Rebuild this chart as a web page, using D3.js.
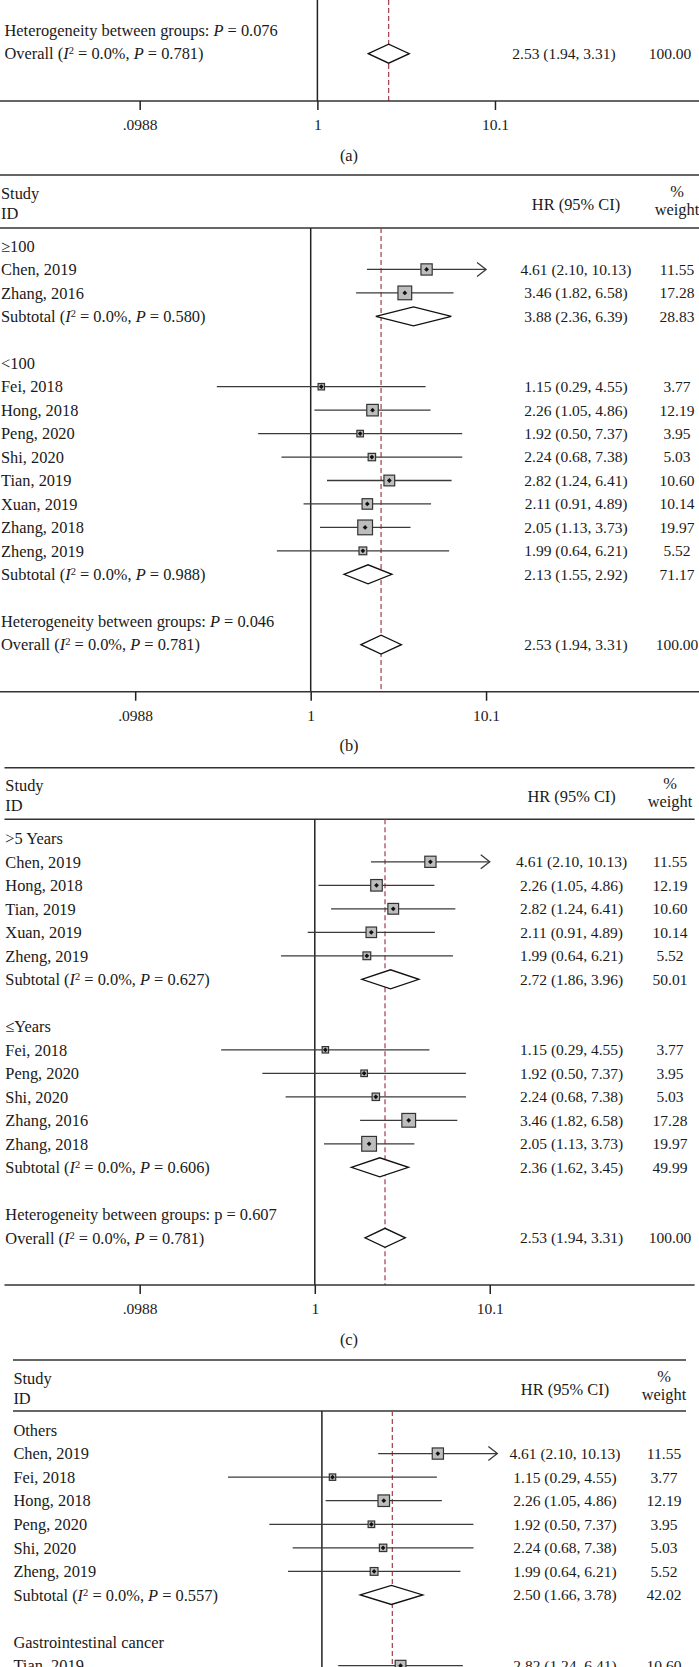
<!DOCTYPE html>
<html>
<head>
<meta charset="utf-8">
<script src="https://cdn.jsdelivr.net/npm/d3@7"></script>
<style>
  body { margin: 0; background: #fff; }
  svg text { font-family: "Liberation Serif", "DejaVu Serif", serif; fill: #1a1a1a; }
</style>
</head>
<body>
<svg id="chart" width="699" height="1667"></svg>
<script>
// ---- data ----
const studyNames  = ["Chen, 2019", "Zhang, 2016", "Fei, 2018", "Hong, 2018", "Peng, 2020",
                     "Shi, 2020", "Tian, 2019", "Xuan, 2019", "Zhang, 2018", "Zheng, 2019"];
const studyHR     = [4.61, 3.46, 1.15, 2.26, 1.92, 2.24, 2.82, 2.11, 2.05, 1.99];
const studyLower  = [2.10, 1.82, 0.29, 1.05, 0.50, 0.68, 1.24, 0.91, 1.13, 0.64];
const studyUpper  = [10.13, 6.58, 4.55, 4.86, 7.37, 7.38, 6.41, 4.89, 3.73, 6.21];
const studyWeight = [11.55, 17.28, 3.77, 12.19, 3.95, 5.03, 10.60, 10.14, 19.97, 5.52];

const overallHR = [2.53, 1.94, 3.31, 100.00];   // est, lower, upper, weight
const overallP = "0.781";

// (b) sample size
const groupsB  = ["≥100", "<100"];
const membersB = [["Chen, 2019", "Zhang, 2016"],
                  ["Fei, 2018", "Hong, 2018", "Peng, 2020", "Shi, 2020", "Tian, 2019",
                   "Xuan, 2019", "Zhang, 2018", "Zheng, 2019"]];
const subHRB = [3.88, 2.13], subLoB = [2.36, 1.55], subHiB = [6.39, 2.92];
const subWB = [28.83, 71.17], subPB = ["0.580", "0.988"];

// (c) follow-up
const groupsC  = [">5 Years", "≤Years"];
const membersC = [["Chen, 2019", "Hong, 2018", "Tian, 2019", "Xuan, 2019", "Zheng, 2019"],
                  ["Fei, 2018", "Peng, 2020", "Shi, 2020", "Zhang, 2016", "Zhang, 2018"]];
const subHRC = [2.72, 2.36], subLoC = [1.86, 1.62], subHiC = [3.96, 3.45];
const subWC = [50.01, 49.99], subPC = ["0.627", "0.606"];

// (d) cancer type (cut off at the bottom)
const groupsD  = ["Others", "Gastrointestinal cancer"];
const membersD = [["Chen, 2019", "Fei, 2018", "Hong, 2018", "Peng, 2020", "Shi, 2020", "Zheng, 2019"],
                  ["Tian, 2019"]];
const subHRD = [2.50], subLoD = [1.66], subHiD = [3.78];
const subWD = [42.02], subPD = ["0.557"];

const hetA = "0.076", hetB = "0.046", hetC = "0.607";

const tickVals = [0.0988, 1, 10.1];
const tickLabels = [".0988", "1", "10.1"];

// ---- helpers ----
const svg = d3.select("#chart");
const fmt = d3.format(".2f");
const FS = 16.4;     // labels, headers
const NS = 15.5;     // numeric columns

function buildRows(groups, members, subHR, subLo, subHi, subW, subP, het, hetItalic) {
  let rows = [];
  groups.forEach(function(g, gi) {
    rows.push({ type: "group", label: g });
    members[gi].forEach(function(name) {
      let i = studyNames.indexOf(name);
      rows.push({ type: "study", label: name, hr: studyHR[i], lo: studyLower[i],
                  hi: studyUpper[i], w: studyWeight[i] });
    });
    if (gi < subHR.length) {
      rows.push({ type: "sub", hr: subHR[gi], lo: subLo[gi], hi: subHi[gi], w: subW[gi], p: subP[gi] });
      rows.push({ type: "blank" });
    }
  });
  if (het) {
    rows.push({ type: "het", p: het, italic: hetItalic });
    rows.push({ type: "overall", hr: overallHR[0], lo: overallHR[1], hi: overallHR[2],
                w: overallHR[3], p: overallP });
  }
  return rows;
}

function labelParts(r) {
  if (r.type === "sub" || r.type === "overall") {
    return [[r.type === "sub" ? "Subtotal (" : "Overall ("], ["I", "i"], ["2", "sup"],
            [" = 0.0%, "], ["P", "i"], [" = " + r.p + ")"]];
  }
  if (r.type === "het") {
    return [["Heterogeneity between groups: "], [r.italic ? "P" : "p", r.italic ? "i" : ""],
            [" = " + r.p]];
  }
  return [[r.label]];
}

function writeLabel(g, x, y, parts) {
  let t = g.append("text").attr("x", x).attr("y", y).attr("dy", "0.35em")
    .style("font-size", FS + "px");
  let shift = 0;
  parts.forEach(function(p) {
    let s = t.append("tspan").text(p[0]);
    if (p[1] === "i") s.style("font-style", "italic");
    if (p[1] === "sup") { s.style("font-size", "10.5px").attr("dy", -5); shift = 5; }
    else if (shift) { s.attr("dy", shift); shift = 0; }
  });
}

function drawPanel(cfg, rows) {
  let g = svg.append("g");
  let x = d3.scaleLog().domain([1, 10.1])
    .range([cfg.x1, cfg.x1 + cfg.dec * Math.log10(10.1)]);
  let rowY = function(i) { return cfg.row0 + i * cfg.step; };
  let boxSide = function(w) { return 3.3 * Math.sqrt(w); };

  // header
  if (cfg.top != null) {
    g.append("line").attr("x1", cfg.ruleL).attr("x2", cfg.ruleR)
      .attr("y1", cfg.top).attr("y2", cfg.top).attr("stroke", "#333").attr("stroke-width", 1.5);
    writeLabel(g, cfg.textX, cfg.top + 18, [["Study"]]);
    writeLabel(g, cfg.textX, cfg.top + 38, [["ID"]]);
    g.append("text").attr("x", cfg.hrX).attr("y", cfg.top + 29).attr("dy", "0.35em")
      .attr("text-anchor", "middle").style("font-size", FS + "px").text("HR (95% CI)");
    g.append("text").attr("x", cfg.wX).attr("y", cfg.top + 16).attr("dy", "0.35em")
      .attr("text-anchor", "middle").style("font-size", FS + "px").text("%");
    g.append("text").attr("x", cfg.wX).attr("y", cfg.top + 34).attr("dy", "0.35em")
      .attr("text-anchor", "middle").style("font-size", FS + "px").text("weight");
    g.append("line").attr("x1", cfg.ruleL).attr("x2", cfg.ruleR)
      .attr("y1", cfg.head).attr("y2", cfg.head).attr("stroke", "#333").attr("stroke-width", 1.5);
  }

  let lineTop = cfg.top != null ? cfg.head : 0;
  let lineBot = cfg.axisY != null ? cfg.axisY : 1667;

  // null line and overall estimate line
  g.append("line").attr("x1", x(1)).attr("x2", x(1)).attr("y1", lineTop).attr("y2", lineBot)
    .attr("stroke", "#222").attr("stroke-width", 1.5);
  g.append("line").attr("x1", x(overallHR[0])).attr("x2", x(overallHR[0]))
    .attr("y1", lineTop).attr("y2", lineBot)
    .attr("stroke", "#a53a4c").attr("stroke-width", 1.2).attr("stroke-dasharray", "5,3");

  rows.forEach(function(r, i) {
    let y = rowY(i);
    if (r.type === "blank") return;
    writeLabel(g, cfg.textX, y, labelParts(r));

    if (r.type === "study") {
      let hiC = Math.min(r.hi, 10.1);
      g.append("line").attr("x1", x(r.lo)).attr("x2", x(hiC)).attr("y1", y).attr("y2", y)
        .attr("stroke", "#3a3a3a").attr("stroke-width", 1.3);
      if (r.hi > 10.1) {
        g.append("path")
          .attr("d", "M" + (x(hiC) - 9) + "," + (y - 7) + "L" + x(hiC) + "," + y + "L" + (x(hiC) - 9) + "," + (y + 7))
          .attr("fill", "none").attr("stroke", "#3a3a3a").attr("stroke-width", 1.3);
      }
      let s = boxSide(r.w);
      g.append("rect").attr("x", x(r.hr) - s / 2).attr("y", y - s / 2)
        .attr("width", s).attr("height", s)
        .attr("fill", "#bdbdbd").attr("stroke", "#333").attr("stroke-width", 1.2);
      g.append("path")
        .attr("d", "M" + (x(r.hr) - 2.4) + "," + y + "L" + x(r.hr) + "," + (y - 2.4) +
                   "L" + (x(r.hr) + 2.4) + "," + y + "L" + x(r.hr) + "," + (y + 2.4) + "Z")
        .attr("fill", "#111");
    }
    if (r.type === "sub" || r.type === "overall") {
      g.append("path")
        .attr("d", "M" + x(r.lo) + "," + y + "L" + x(r.hr) + "," + (y - 9.5) +
                   "L" + x(r.hi) + "," + y + "L" + x(r.hr) + "," + (y + 9.5) + "Z")
        .attr("fill", "#fff").attr("stroke", "#111").attr("stroke-width", 1.3);
    }
    if (r.hr != null) {
      g.append("text").attr("x", cfg.hrX).attr("y", y).attr("dy", "0.35em")
        .attr("text-anchor", "middle").style("font-size", NS + "px")
        .text(fmt(r.hr) + " (" + fmt(r.lo) + ", " + fmt(r.hi) + ")");
      g.append("text").attr("x", cfg.wX).attr("y", y).attr("dy", "0.35em")
        .attr("text-anchor", "middle").style("font-size", NS + "px").text(fmt(r.w));
    }
  });

  // x axis
  if (cfg.axisY != null) {
    g.append("line").attr("x1", cfg.ruleL).attr("x2", cfg.ruleR)
      .attr("y1", cfg.axisY).attr("y2", cfg.axisY).attr("stroke", "#333").attr("stroke-width", 1.5);
    let axis = d3.axisBottom(x).tickValues(tickVals).tickSize(9).tickPadding(9)
      .tickFormat(function(d, i) { return tickLabels[i]; });
    let ag = g.append("g").attr("transform", "translate(0," + cfg.axisY + ")").call(axis);
    ag.select(".domain").remove();
    ag.selectAll(".tick line").attr("stroke", "#222").attr("stroke-width", 1.5);
    ag.selectAll(".tick text").style("font-size", NS + "px")
      .style("font-family", "'Liberation Serif', 'DejaVu Serif', serif").attr("fill", "#1a1a1a");
    g.append("text").attr("x", 349).attr("y", cfg.axisY + 54).attr("dy", "0.35em")
      .attr("text-anchor", "middle").style("font-size", FS + "px").text(cfg.caption);
  }
}

// ---- panels ----
drawPanel({ x1: 317.4, dec: 176.8, textX: 4.5, hrX: 564, wX: 670, ruleL: 0, ruleR: 699,
            top: null, row0: 30.7, step: 23, axisY: 101, caption: "(a)" },
          buildRows([], [], [], [], [], [], [], hetA, true));

drawPanel({ x1: 310.7, dec: 174.6, textX: 1, hrX: 576, wX: 677, ruleL: 0, ruleR: 699,
            top: 175, head: 228, row0: 246, step: 23.45, axisY: 691.7, caption: "(b)" },
          buildRows(groupsB, membersB, subHRB, subLoB, subHiB, subWB, subPB, hetB, true));

drawPanel({ x1: 314.8, dec: 174.2, textX: 5.3, hrX: 571.6, wX: 670, ruleL: 4.5, ruleR: 694.6,
            top: 767.7, head: 819.3, row0: 838.3, step: 23.5, axisY: 1285, caption: "(c)" },
          buildRows(groupsC, membersC, subHRC, subLoC, subHiC, subWC, subPC, hetC, false));

drawPanel({ x1: 321.9, dec: 174.7, textX: 13.4, hrX: 565, wX: 664, ruleL: 13, ruleR: 686,
            top: 1360, head: 1411, row0: 1430, step: 23.57, axisY: null },
          buildRows(groupsD, membersD, subHRD, subLoD, subHiD, subWD, subPD, null, true));
</script>
</body>
</html>
